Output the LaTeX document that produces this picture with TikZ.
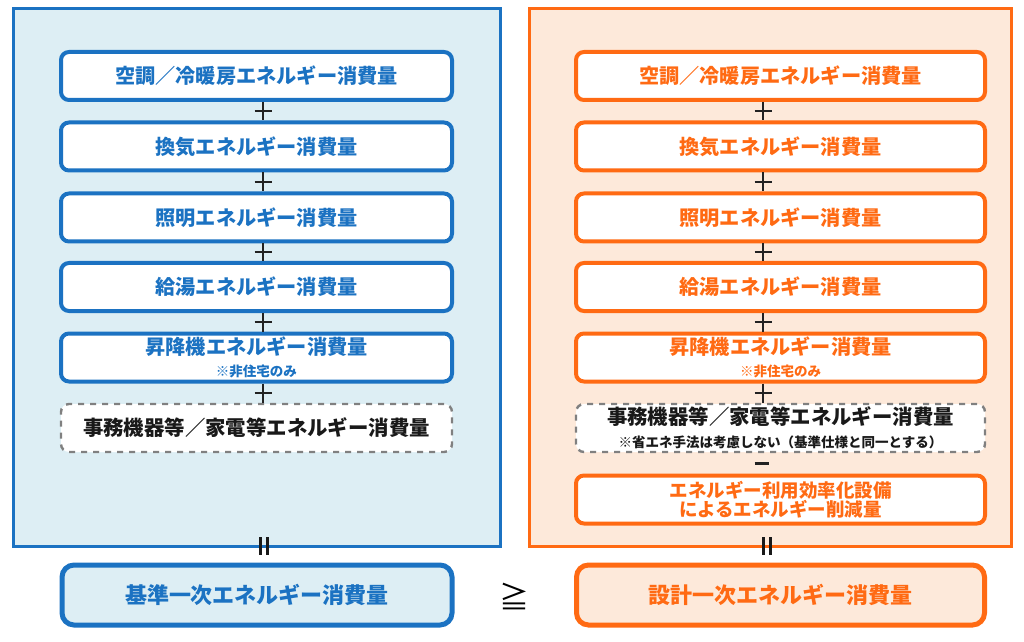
\documentclass[tikz,border=0pt]{standalone}
\usepackage{fontspec}
\setmainfont{Noto Sans CJK JP}
\usetikzlibrary{positioning,calc}

\definecolor{kijunblue}{HTML}{1B72C2}
\definecolor{kijunfill}{HTML}{DDEEF4}
\definecolor{sekkeiorange}{HTML}{FF6A13}
\definecolor{sekkeifill}{HTML}{FDE9DA}
\definecolor{signgray}{HTML}{222222}

\newcommand{\notetext}[1]{{\fontsize{6.75}{8}\selectfont #1}}

\begin{document}
\begin{tikzpicture}[
    x=0.5pt, y=-0.5pt,
    mainfont/.style={font=\bfseries\fontsize{10.1}{12}\selectfont},
    frame/.style={line width=1.5pt, minimum width=243.5pt, minimum height=269pt, inner sep=0pt},
    item/.style={mainfont, line width=2pt, rounded corners=4pt, fill=white,
                 minimum height=24pt, inner sep=0pt, align=center},
    kijunitem/.style={item, draw=kijunblue, text=kijunblue, minimum width=195.5pt},
    sekkeiitem/.style={item, draw=sekkeiorange, text=sekkeiorange, minimum width=204.5pt},
    otheritem/.style={item, draw=black!50, dashed, line width=1.2pt, text=black!90,
                      font=\bfseries\fontsize{10.2}{12}\selectfont},
    total/.style={font=\bfseries\fontsize{11}{13}\selectfont, line width=2.5pt,
                  rounded corners=6pt, minimum height=30pt, inner sep=0pt},
    sign/.style={draw=signgray, line width=0.9pt},
    equal/.style={draw=black!90, line width=1.9pt}
]
  \useasboundingbox (0,0) rectangle (1024,642);

  % frames
  \node[frame, draw=kijunblue, fill=kijunfill] (kijun) at (257,277.5) {};
  \node[frame, draw=sekkeiorange, fill=sekkeifill, minimum width=241pt] (sekkei) at (770.5,277.5) {};

  % standard side
  \node[kijunitem] (k1) at (256.5,76)    {空調／冷暖房エネルギー消費量};
  \node[kijunitem] (k2) at (256.5,146.5) {換気エネルギー消費量};
  \node[kijunitem] (k3) at (256.5,217.5) {照明エネルギー消費量};
  \node[kijunitem] (k4) at (256.5,287)   {給湯エネルギー消費量};
  \node[kijunitem] (k5) at (256.5,357.5) {昇降機エネルギー消費量\\[-1pt]\notetext{※非住宅のみ}};
  \node[otheritem, minimum width=195.5pt] (k6) at (256.5,428)
    {事務機器等／家電等エネルギー消費量};

  % design side
  \node[sekkeiitem] (s1) at (780.5,76)    {空調／冷暖房エネルギー消費量};
  \node[sekkeiitem] (s2) at (780.5,146.5) {換気エネルギー消費量};
  \node[sekkeiitem] (s3) at (780.5,217.5) {照明エネルギー消費量};
  \node[sekkeiitem] (s4) at (780.5,287)   {給湯エネルギー消費量};
  \node[sekkeiitem] (s5) at (780.5,357.5) {昇降機エネルギー消費量\\[-1pt]\notetext{※非住宅のみ}};
  \node[otheritem, minimum width=204.5pt] (s6) at (780.5,428)
    {事務機器等／家電等エネルギー消費量\\[-0.5pt]\notetext{※省エネ手法は考慮しない（基準仕様と同一とする）}};
  \node[sekkeiitem, font=\bfseries\fontsize{9.25}{9.5}\selectfont] (s7) at (780.5,499.5)
    {エネルギー利用効率化設備\\によるエネルギー削減量};

  % totals
  \node[total, draw=kijunblue, fill=kijunfill, text=kijunblue, minimum width=195pt] (ktotal) at (257,595)
    {基準一次エネルギー消費量};
  \node[total, draw=sekkeiorange, fill=sekkeifill, text=sekkeiorange, minimum width=204pt] (stotal) at (780.5,595)
    {設計一次エネルギー消費量};
  \node[font=\fontsize{15}{15}\selectfont, inner sep=0pt] (geq) at (514,596) {≧};

  % plus signs
  \foreach \a/\b in {k1/k2, k2/k3, k3/k4, k4/k5, k5/k6} {
    \draw[sign] ($(\a.south)+(6.5,0)$) -- ($(\b.north)+(6.5,0)$);
    \draw[sign] ($(\a.south)!0.5!(\b.north)+(-2,0)$) -- ++(17,0);
  }
  \foreach \a/\b in {s1/s2, s2/s3, s3/s4, s4/s5, s5/s6} {
    \draw[sign] ($(\a.south)+(-17.5,0)$) -- ($(\b.north)+(-17.5,0)$);
    \draw[sign] ($(\a.south)!0.5!(\b.north)+(-26,0)$) -- ++(17,0);
  }
  % minus sign
  \draw[sign, line width=1.2pt] ($(s6.south)!0.5!(s7.north)+(-26,0)$) -- ++(14,0);

  % equal signs
  \foreach \dx in {3.5,10.5} {
    \draw[equal] ($(kijun.south)+(\dx,-11)$) -- ++(0,18);
    \draw[equal] ($(sekkei.south)+(\dx-10.5,-11)$) -- ++(0,18);
  }
\end{tikzpicture}
\end{document}
